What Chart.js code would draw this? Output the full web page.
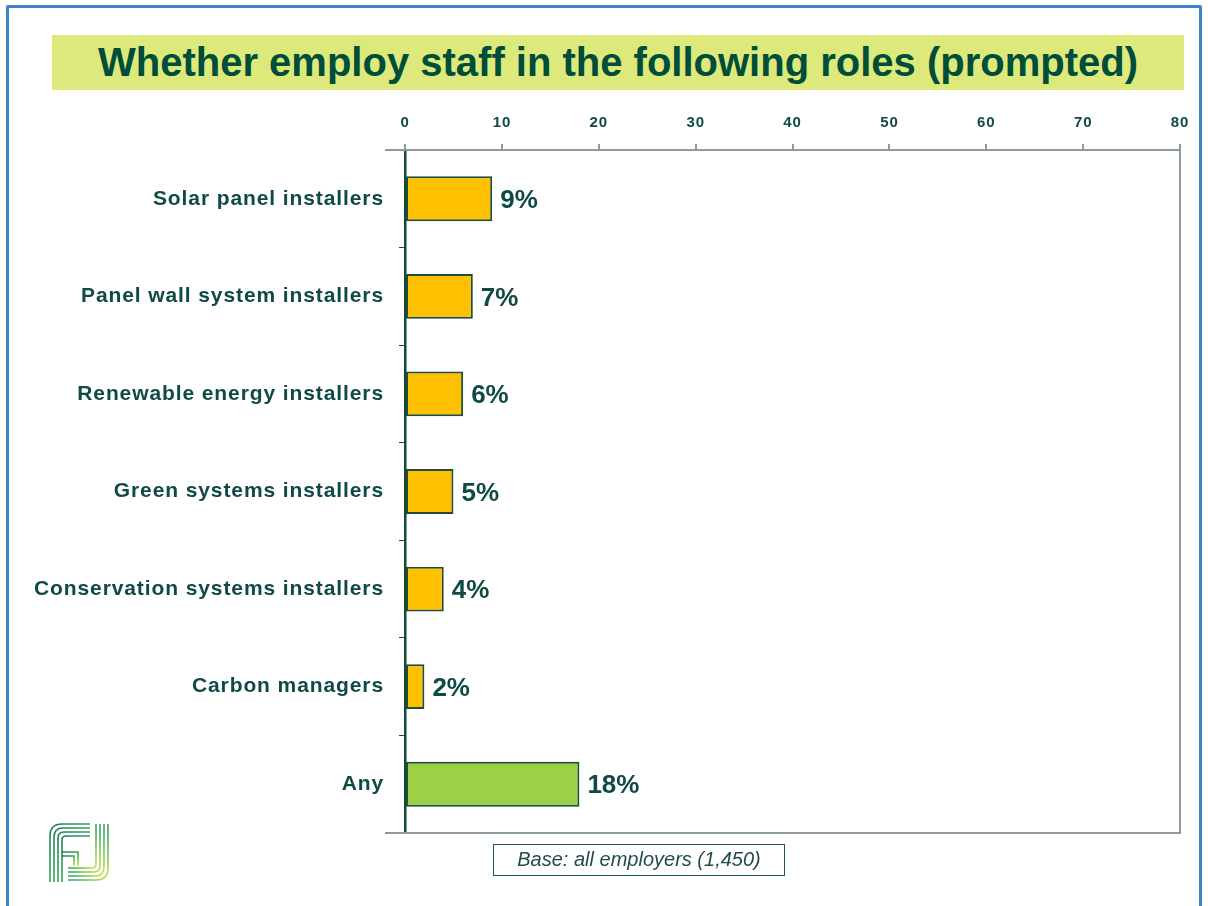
<!DOCTYPE html>
<html>
<head>
<meta charset="utf-8">
<script src="https://cdn.jsdelivr.net/npm/chart.js@4.4.1/dist/chart.umd.min.js"></script>
<style>
  html, body { margin: 0; padding: 0; background: #fff; }
  body { width: 1208px; height: 906px; position: relative; overflow: hidden; font-family: "Liberation Sans", Arial, sans-serif; }
  .frame { position: absolute; left: 6px; top: 5px; width: 1196px; height: 920px; border: 3px solid #3d85c6; border-radius: 2px; box-sizing: border-box; }
  .banner { position: absolute; left: 52px; top: 35px; width: 1132px; height: 55px; background: #dde97a; }
  .banner h1 { margin: 0; text-align: center; line-height: 55px; font-size: 40px; font-weight: bold; color: #004d3a; }
  #wrap { position: absolute; left: 0; top: 0; width: 1208px; height: 906px; }
  .base { position: absolute; left: 493px; top: 844px; width: 292px; height: 32px; border: 1.5px solid #1e5a45; box-sizing: border-box; font-style: italic; font-size: 20px; color: #1e4d4a; text-align: center; line-height: 29px; }
  .logo { position: absolute; left: 48px; top: 822px; width: 62px; height: 60px; }
</style>
</head>
<body>
<div class="frame"></div>
<div class="banner"><h1>Whether employ staff in the following roles (prompted)</h1></div>
<div id="wrap"><canvas id="chart"></canvas></div>
<div class="base">Base: all employers (1,450)</div>
<svg class="logo" viewBox="0 0 62 60">
  <defs>
    <linearGradient id="lg" x1="0" y1="0" x2="1" y2="1">
      <stop offset="0" stop-color="#1f7a5a"/>
      <stop offset="0.6" stop-color="#3fae5a"/>
      <stop offset="1" stop-color="#c8e84a"/>
    </linearGradient>
  </defs>
  <g fill="none" stroke="url(#lg)" stroke-width="1.6">
    <path d="M2 60 V14 Q2 2 14 2 H42"/>
    <path d="M6 60 V15 Q6 6 15 6 H42"/>
    <path d="M10 60 V16 Q10 10 16 10 H42"/>
    <path d="M14 60 V18 Q14 14 18 14 H42"/>
    <path d="M14 30 H30 V44"/>
    <path d="M14 34 H26 V44"/>
    <path d="M60 2 V46 Q60 58 48 58 H20"/>
    <path d="M56 2 V45 Q56 54 47 54 H20"/>
    <path d="M52 2 V44 Q52 50 46 50 H20"/>
    <path d="M48 2 V42 Q48 46 44 46 H20"/>
  </g>
</svg>
<script>
const categories = [
  'Solar panel installers',
  'Panel wall system installers',
  'Renewable energy installers',
  'Green systems installers',
  'Conservation systems installers',
  'Carbon managers',
  'Any'
];
const values = [9, 7, 6, 5, 4, 2, 18];
const barColors = ['#ffc000', '#ffc000', '#ffc000', '#ffc000', '#ffc000', '#ffc000', '#9dd145'];
const xTicks = [0, 10, 20, 30, 40, 50, 60, 70, 80];

const TEXT = '#0f4a44';
const AXIS_GREY = '#8e9c94';
const FONT = '"Liberation Sans", Arial, sans-serif';

/* slightly wider lettering for the axis labels, reset before the bars */
const spacing = {
  id: 'spacing',
  beforeDraw(chart)         { chart.ctx.letterSpacing = '0.9px'; },
  beforeDatasetsDraw(chart) { chart.ctx.letterSpacing = '0px'; },
};

/* frame round the plot area: grey top/right/bottom */
const plotFrame = {
  id: 'plotFrame',
  beforeDatasetsDraw(chart) {
    const { ctx, chartArea: a } = chart;
    ctx.save();
    ctx.strokeStyle = AXIS_GREY;
    ctx.lineWidth = 2;
    ctx.beginPath();
    ctx.moveTo(a.left - 20, a.top);
    ctx.lineTo(a.right, a.top);
    ctx.lineTo(a.right, a.bottom);
    ctx.lineTo(a.left - 20, a.bottom);
    ctx.stroke();
    ctx.restore();
  }
};

/* value labels at bar ends */
const valueLabels = {
  id: 'valueLabels',
  afterDatasetsDraw(chart) {
    const { ctx } = chart;
    const meta = chart.getDatasetMeta(0);
    ctx.save();
    ctx.fillStyle = TEXT;
    ctx.font = 'bold 26px ' + FONT;
    ctx.textAlign = 'left';
    ctx.textBaseline = 'middle';
    meta.data.forEach((bar, i) => {
      ctx.fillText(values[i] + '%', bar.x + 8, bar.y + 2);
    });
    ctx.restore();
  }
};

new Chart(document.getElementById('chart'), {
  type: 'bar',
  data: {
    labels: categories,
    datasets: [{
      data:            values,
      backgroundColor: barColors,
      borderColor:     '#1f4d35',
      borderWidth:     2,
      borderSkipped:   false,
      barPercentage:   0.46,
      categoryPercentage: 1,
    }],
  },
  options: {
    indexAxis:           'y',
    responsive:          true,
    maintainAspectRatio: false,
    animation:           false,
    layout: { padding: { top: 100, right: 28, bottom: 73, left: 0 } },
    plugins: {
      legend:  { display: false },
      tooltip: { enabled: false },
    },
    scales: {
      x: {
        position: 'top',
        min: 0,
        max: 80,
        afterBuildTicks: (axis) => { axis.ticks = xTicks.map(v => ({ value: v })); },
        afterFit: (axis) => { axis.height = 50; },
        grid:   { drawOnChartArea: false, color: AXIS_GREY, tickLength: 6, lineWidth: 2 },
        border: { display: false },
        ticks:  { color: TEXT, padding: 12, font: { size: 15, weight: 'bold', family: FONT } },
      },
      y: {
        afterFit: (axis) => { axis.width = 405; },
        grid:   { drawOnChartArea: false, offset: true, color: '#0f4a3a', tickLength: 6, lineWidth: 1 },
        border: { display: true, color: '#0f4a3a', width: 2.5 },
        ticks:  { color: TEXT, padding: 15, font: { size: 21, weight: 'bold', family: FONT } },
      },
    },
  },
  plugins: [spacing, plotFrame, valueLabels],
});
</script>
</body>
</html>
